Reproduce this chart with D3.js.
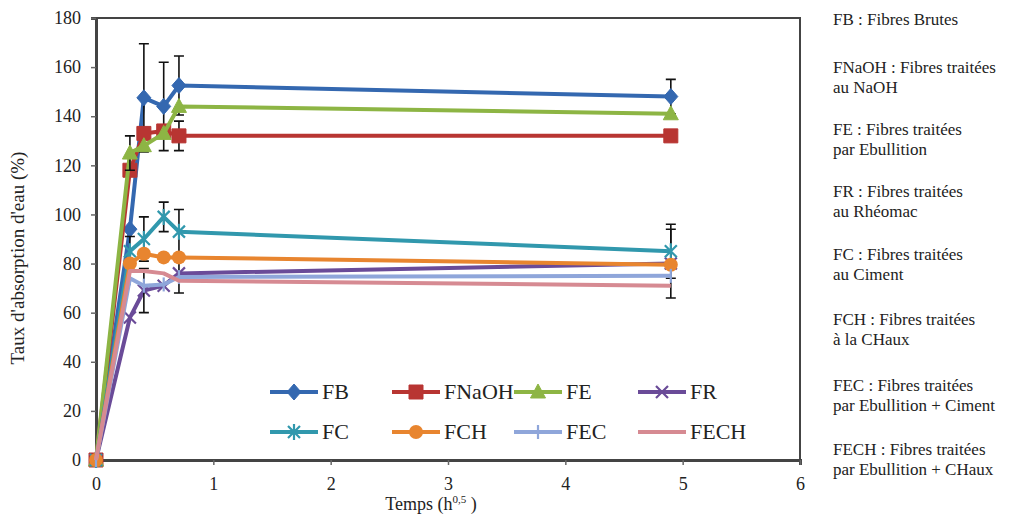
<!DOCTYPE html>
<html>
<head>
<meta charset="utf-8">
<script src="https://cdn.jsdelivr.net/npm/d3@7"></script>
<style>
  body { margin:0; background:#fff; }
</style>
</head>
<body>
<svg id="chart" width="1021" height="520"></svg>
<script>
// time points (h^0.5)
const times = [0, 0.289, 0.408, 0.577, 0.707, 4.899];

const seriesNames = ['FB','FNaOH','FE','FR','FC','FCH','FEC','FECH'];
const FB    = [0, 94, 147.5, 144, 152.5, 148];
const FNaOH = [0, 118, 133, 134, 132, 132];
const FE    = [0, 125, 128, 133, 144, 141];
const FR    = [0, 58, 69, 71, 76, 80];
const FC    = [0, 85, 90, 99, 93, 85];
const FCH   = [0, 80, 84, 82.5, 82.5, 79.5];
const FEC   = [0, 74, 71, 71.5, 74.5, 75];
const FECH  = [0, 77, 77, 76, 73, 71];

// error bar half-widths
const errFB    = [0, 0, 22, 18, 12, 7];
const errFNaOH = [0, 0, 0, 0, 6, 0];
const errFE    = [0, 7, 0, 0, 0, 0];
const errFR    = [0, 0, 9, 0, 8, 14];
const errFC    = [0, 6, 9, 6, 9, 11];
const errNone  = [0, 0, 0, 0, 0, 0];

const xTicks = [0,1,2,3,4,5,6];
const yTicks = d3.range(0, 181, 20);

const notes = [
  ['FB : Fibres Brutes'],
  ['FNaOH : Fibres traitées', 'au NaOH'],
  ['FE : Fibres traitées', 'par Ebullition'],
  ['FR : Fibres traitées', 'au Rhéomac'],
  ['FC : Fibres traitées', 'au Ciment'],
  ['FCH : Fibres traitées', 'à la CHaux'],
  ['FEC : Fibres traitées', 'par Ebullition + Ciment'],
  ['FECH : Fibres traitées', 'par Ebullition + CHaux']
];

const colors = ['#3468b0','#b83532','#8db544','#6a4b98','#3198ad','#e8852f','#8fa6da','#d68a92'];
const markers = ['diamond','square','triangle','x','star','circle','plus','none'];
const valueSets = [FB, FNaOH, FE, FR, FC, FCH, FEC, FECH];
const errSets = [errFB, errFNaOH, errFE, errFR, errFC, errNone, errNone, errNone];

const series = seriesNames.map((name,i) => ({
  name, vals: valueSets[i], err: errSets[i], color: colors[i], marker: markers[i]
}));

const FONT = '"Liberation Serif", "Times New Roman", serif';

const svg = d3.select('#chart').attr('font-family', FONT);
const L = 96, R = 800, T = 18, B = 460;
const x = d3.scaleLinear().domain([0,6]).range([L,R]);
const y = d3.scaleLinear().domain([0,180]).range([B,T]);

// frame
svg.append('rect').attr('x',L).attr('y',T).attr('width',R-L).attr('height',B-T)
  .attr('fill','none').attr('stroke','#444').attr('stroke-width',2);

// axes
const yAxis = svg.append('g').attr('transform',`translate(${L},0)`)
  .call(d3.axisLeft(y).tickValues(yTicks).tickSize(5).tickPadding(10));
const xAxis = svg.append('g').attr('transform',`translate(0,${B})`)
  .call(d3.axisBottom(x).tickValues(xTicks).tickFormat(d3.format('d')).tickSize(5).tickPadding(12));
[yAxis, xAxis].forEach(g => {
  g.attr('font-family', FONT).attr('font-size', 18);
  g.select('.domain').attr('stroke','#444').attr('stroke-width',3);
  g.selectAll('.tick line').attr('stroke','#666').attr('stroke-width',1.5);
  g.selectAll('.tick text').attr('fill','#222');
});

// axis titles
svg.append('text').attr('transform','translate(24,258) rotate(-90)')
  .attr('text-anchor','middle').attr('font-size',19).attr('fill','#222').text("Taux d'absorption d'eau (%)");
const xt = svg.append('text').attr('x',431).attr('y',510).attr('text-anchor','middle').attr('font-size',18).attr('fill','#222');
xt.append('tspan').text('Temps (h');
xt.append('tspan').attr('dy',-7).attr('font-size',11).text('0,5');
xt.append('tspan').attr('dy',7).text(' )');

function markerPath(type){
  switch(type){
    case 'diamond': return 'M0,-8L7,0L0,8L-7,0Z';
    case 'square': return 'M-7,-7H7V7H-7Z';
    case 'triangle': return 'M0,-8L7.5,6H-7.5Z';
    case 'x': return 'M-6,-6L6,6M-6,6L6,-6';
    case 'star': return 'M-6,-6L6,6M-6,6L6,-6M0,-8V8';
    case 'plus': return 'M0,-7V7';
    default: return null;
  }
}
function drawMarker(g, type, color, cx, cy){
  if (type === 'none') return;
  if (type === 'circle') {
    g.append('circle').attr('cx',cx).attr('cy',cy).attr('r',7).attr('fill',color);
    return;
  }
  const open = (type === 'x' || type === 'star' || type === 'plus');
  g.append('path').attr('d', markerPath(type)).attr('transform',`translate(${cx},${cy})`)
    .attr('fill', open ? 'none' : color).attr('stroke', color).attr('stroke-width', open ? 2.2 : 1);
}

const line = d3.line().x(d => x(d.t)).y(d => y(d.v));

series.forEach(s => {
  const g = svg.append('g');
  const pts = times.map((t,i) => ({t, v:s.vals[i], e:s.err[i]}));
  g.append('path').datum(pts).attr('d', line).attr('fill','none')
    .attr('stroke', s.color).attr('stroke-width',4).attr('stroke-linejoin','round');
  pts.forEach(p => {
    if (p.e > 0) {
      const px = x(p.t);
      g.append('path')
        .attr('d', `M${px},${y(p.v+p.e)}V${y(p.v-p.e)}M${px-5},${y(p.v+p.e)}H${px+5}M${px-5},${y(p.v-p.e)}H${px+5}`)
        .attr('stroke','#111').attr('stroke-width',1.6).attr('fill','none');
    }
    drawMarker(g, s.marker, s.color, x(p.t), y(p.v));
  });
});

// legend
const legCols = [270, 392, 514, 638];
const legRows = [392, 432];
series.forEach((s,i) => {
  const lx = legCols[i % 4], ly = legRows[Math.floor(i/4)];
  const g = svg.append('g');
  g.append('line').attr('x1',lx).attr('x2',lx+48).attr('y1',ly).attr('y2',ly)
    .attr('stroke',s.color).attr('stroke-width',4);
  drawMarker(g, s.marker, s.color, lx+24, ly);
  g.append('text').attr('x',lx+52).attr('y',ly+7).attr('font-size',22).attr('fill','#222').text(s.name);
});

// side notes
const noteY = [20, 68, 130, 192, 255, 320, 386, 450];
notes.forEach((lines,i) => {
  lines.forEach((txt,j) => {
    svg.append('text').attr('x',833).attr('y',noteY[i] + j*20 + 5)
      .attr('font-size',17).attr('fill','#222').text(txt);
  });
});
</script>
</body>
</html>
